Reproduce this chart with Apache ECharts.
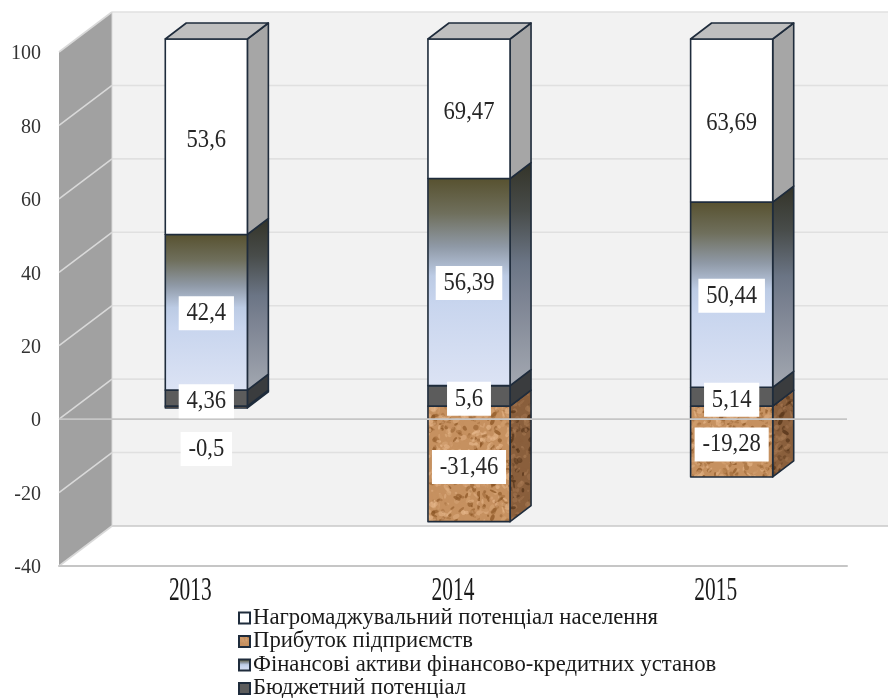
<!DOCTYPE html>
<html>
<head>
<meta charset="utf-8">
<style>html,body{margin:0;padding:0;background:#fff}#c{width:888px;height:698px}</style>
<script src="https://cdn.jsdelivr.net/npm/echarts@6/dist/echarts.min.js"></script>
</head>
<body>
<div id="c"></div>
<script>
const categories = ['2013', '2014', '2015'];
const budget = [4.36, 5.6, 5.14];
const finAssets = [42.4, 56.39, 50.44];
const population = [53.6, 69.47, 63.69];
const profit = [-0.5, -31.46, -19.28];
const yTicks = [-40, -20, 0, 20, 40, 60, 80, 100];
const nameBudget = 'Бюджетний потенціал';
const nameFin = 'Фінансові активи фінансово-кредитних установ';
const namePop = 'Нагромаджувальний потенціал населення';
const nameProfit = 'Прибуток підприємств';

const SERIF = '"Liberation Serif", "Times New Roman", serif';
const WALL_DX = 53, WALL_DY = -40;   // depth of the 3D box
const BAR_DX = 16, BAR_DY = -13;     // bar front face inside the box
const SIDE_DX = 21, SIDE_DY = -16;   // bar depth
const EDGE = '#1f2c3c';
const fmt = v => String(v).replace('.', ',');

function cork(base, dark, light, n) {
  const cv = document.createElement('canvas');
  cv.width = cv.height = 96;
  const g = cv.getContext('2d');
  g.fillStyle = base; g.fillRect(0, 0, 96, 96);
  let s = 12345;
  const r = () => (s = (s * 1103515245 + 12345) & 0x7fffffff) / 0x7fffffff;
  for (let i = 0; i < n; i++) {
    const t = r();
    g.fillStyle = t < 0.3 ? dark : t < 0.7 ? light : base;
    g.globalAlpha = 0.25 + r() * 0.45;
    g.beginPath();
    g.ellipse(r() * 96, r() * 96, 1 + r() * 3, 0.8 + r() * 2, r() * 3, 0, 7);
    g.fill();
  }
  return cv;
}
const corkFront = { image: cork('#c69160', '#86501f', '#e6b78b', 560), repeat: 'repeat' };
const corkSide = { image: cork('#8a5f3c', '#4c2c12', '#a87a54', 560), repeat: 'repeat' };
const vgrad = stops => ({ type: 'linear', x: 0, y: 0, x2: 0, y2: 1, colorStops: stops.map(([offset, color]) => ({ offset, color })) });
const finFront = vgrad([[0, '#57512f'], [0.17, '#6f6f5c'], [0.33, '#8f99a6'], [0.47, '#bccbe4'], [0.6, '#c8d5ee'], [1, '#dce3f4']]);
const finSide = vgrad([[0, '#333328'], [0.22, '#484c4a'], [0.45, '#6b7585'], [0.6, '#7c8392'], [1, '#a3a8b1']]);

const looks = {
  pop: { front: '#ffffff', side: '#a6a6a6', top: '#bfbfbf' },
  fin: { front: finFront, side: finSide, top: '#bfbfbf' },
  bud: { front: '#5c5c5c', side: '#3a3c3e', top: '#bfbfbf' },
  pro: { front: corkFront, side: corkSide, top: '#bfbfbf' }
};

// Stack segments: [category, start, end, shown value]
function segs(vals, base) {
  return vals.map((v, i) => [i, base ? base[i] : 0, (base ? base[i] : 0) + v, v]);
}
const budSeg = segs(budget);
const finSeg = segs(finAssets, budget);
const popSeg = segs(population, budget.map((b, i) => b + finAssets[i]));
const proSeg = segs(profit);

function barRender(look, topmost) {
  return function (params, api) {
    const cat = api.value(0);
    const maxV = yTicks[yTicks.length - 1];
    const a = Math.min(api.value(1), maxV), b = Math.min(api.value(2), maxV);
    const c0 = api.coord([cat, a]), c1 = api.coord([cat, b]);
    const w = api.size([1, 0])[0] * 0.3125;
    const x0 = c0[0] - w / 2 + BAR_DX, x1 = x0 + w;
    let yTop = Math.min(c0[1], c1[1]) + BAR_DY, yBot = Math.max(c0[1], c1[1]) + BAR_DY;
    const stroke = { stroke: EDGE, lineWidth: 1.6, lineJoin: 'round' };
    const kids = [
      { type: 'polygon', shape: { points: [[x1, yTop], [x1 + SIDE_DX, yTop + SIDE_DY], [x1 + SIDE_DX, yBot + SIDE_DY], [x1, yBot]] }, style: Object.assign({ fill: look.side }, stroke) },
      { type: 'rect', shape: { x: x0, y: yTop, width: w, height: yBot - yTop }, style: Object.assign({ fill: look.front }, stroke) }
    ];
    if (topmost) {
      kids.push({ type: 'polygon', shape: { points: [[x0, yTop], [x0 + SIDE_DX, yTop + SIDE_DY], [x1 + SIDE_DX, yTop + SIDE_DY], [x1, yTop]] }, style: Object.assign({ fill: look.top }, stroke) });
    }
    return { type: 'group', children: kids };
  };
}

function labelRender(params, api) {
  const cat = api.value(0);
  const maxV = yTicks[yTicks.length - 1];
  const a = Math.min(api.value(1), maxV), b = Math.min(api.value(2), maxV);
  const ca = api.coord([cat, a]), cb = api.coord([cat, b]);
  let y = (ca[1] + cb[1]) / 2 + BAR_DY + 3;
  // the small negative 2013 label sits moved down under its sliver in the source
  if (Math.abs(api.value(2) - api.value(1)) < 1) y += 39;
  // labels of the third stacked group (financial assets) sit slightly higher
  if (params.dataIndex >= 6 && params.dataIndex < 9) y -= 2;
  return {
    type: 'text', z2: 20,
    x: ca[0] + BAR_DX, y: y, scaleX: 0.87, scaleY: 1,
    style: {
      text: fmt(api.value(3)), align: 'center', verticalAlign: 'middle',
      font: '26px ' + SERIF, fill: '#262626',
      backgroundColor: '#ffffff', padding: [4, 9, 4, 9]
    }
  };
}

function wallRender(params, api) {
  const maxV = yTicks[yTicks.length - 1], minV = yTicks[0];
  const tl = api.coord([0, maxV]), bl = api.coord([0, minV]);
  const sz = api.getWidth();
  const L = params.coordSys.x;
  const tY = tl[1], bY = bl[1];
  const grid = '#d9d9d9';
  const kids = [
    { type: 'rect', shape: { x: L + WALL_DX, y: tY + WALL_DY, width: sz - L - WALL_DX, height: bY - tY }, style: { fill: '#f2f2f2' } },
    { type: 'polygon', shape: { points: [[L, tY], [L + WALL_DX, tY + WALL_DY], [L + WALL_DX, bY + WALL_DY], [L, bY]] }, style: { fill: '#a1a1a1' } }
  ];
  yTicks.forEach(v => {
    const y = api.coord([0, v])[1];
    kids.push({ type: 'line', shape: { x1: L, y1: y, x2: L + WALL_DX, y2: y + WALL_DY }, style: { stroke: grid, lineWidth: 1.6 } });
    kids.push({ type: 'line', shape: { x1: L + WALL_DX, y1: y + WALL_DY, x2: sz, y2: y + WALL_DY }, style: { stroke: v === minV ? '#c8c8c8' : '#e0e0e0', lineWidth: 1.6 } });
  });
  kids.push({ type: 'line', shape: { x1: L + WALL_DX, y1: tY + WALL_DY, x2: L + WALL_DX, y2: bY + WALL_DY }, style: { stroke: grid, lineWidth: 1 } });
  return { type: 'group', children: kids };
}

function zeroRender(params, api) {
  const c = api.coord([0, 0]);
  const L = params.coordSys.x, R = L + params.coordSys.width;
  return { type: 'line', shape: { x1: L, y1: c[1], x2: R, y2: c[1] }, style: { stroke: '#c6c6c6', lineWidth: 1.8 } };
}

function catLabelRender(params, api) {
  const i = api.value(0);
  const c = api.coord([i, yTicks[0]]);
  return {
    type: 'text', x: c[0], y: c[1] + 25, scaleX: 0.63, scaleY: 1,
    style: { text: categories[i], align: 'center', verticalAlign: 'middle', font: '34px ' + SERIF, fill: '#1a1a1a' }
  };
}

const chart = echarts.init(document.getElementById('c'), null, { renderer: 'canvas' });
const cs = (name, data, look, top, z) => ({
  type: 'custom', name, data, z, clip: false, silent: true,
  encode: { x: 0, y: [1, 2] },
  itemStyle: { color: look.front, borderColor: EDGE, borderWidth: 1.2 },
  renderItem: barRender(look, top)
});
chart.setOption({
  animation: false,
  backgroundColor: '#ffffff',
  grid: { left: 59, right: 41, top: 52, bottom: 132, containLabel: false },
  xAxis: {
    type: 'category', data: categories, position: 'bottom',
    axisLine: { onZero: false, show: true, lineStyle: { color: '#c6c6c6', width: 2 } },
    axisTick: { show: false }, axisLabel: { show: false }, splitLine: { show: false }
  },
  yAxis: {
    type: 'value', min: yTicks[0], max: yTicks[yTicks.length - 1], interval: 20,
    axisLine: { show: false }, axisTick: { show: false }, splitLine: { show: false },
    axisLabel: { margin: 18, fontFamily: SERIF, fontSize: 20, color: '#333333', align: 'right', verticalAlign: 'top', lineHeight: 4 }
  },
  legend: {
    orient: 'vertical', left: 238, top: 606.5, height: 130, icon: 'rect',
    itemWidth: 11, itemHeight: 11, itemGap: 0.5, padding: 0,
    selectedMode: false,
    data: [namePop, nameProfit, nameFin, nameBudget],
    textStyle: { fontFamily: SERIF, fontSize: 22.7, color: '#1a1a1a', padding: [0, 0, 0, -2] }
  },
  series: [
    { type: 'custom', name: 'walls', data: [[0, 0, 0]], z: 0, clip: false, silent: true, renderItem: wallRender },
    cs(nameProfit, proSeg, looks.pro, false, 2),
    cs(nameBudget, budSeg, looks.bud, false, 2),
    cs(nameFin, finSeg, looks.fin, false, 2),
    cs(namePop, popSeg, looks.pop, true, 2),
    { type: 'custom', name: 'zero', data: [[0, 0, 0]], z: 3, clip: false, silent: true, renderItem: zeroRender },
    { type: 'custom', name: 'labels', data: proSeg.concat(budSeg, finSeg, popSeg), z: 4, clip: false, silent: true, encode: { x: 0, y: [1, 2] }, renderItem: labelRender },
    { type: 'custom', name: 'categoryLabels', data: categories.map((c, i) => [i, 0]), z: 4, clip: false, silent: true, renderItem: catLabelRender }
  ]
});
</script>
</body>
</html>
